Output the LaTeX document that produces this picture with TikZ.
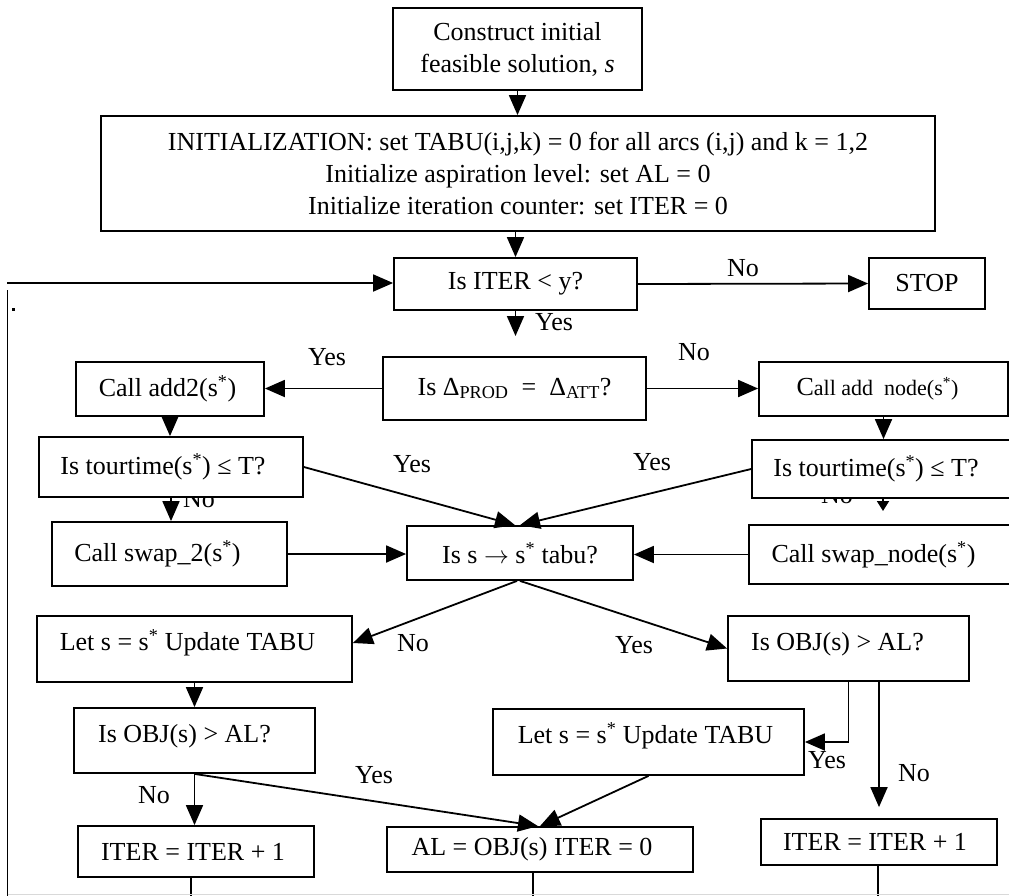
\documentclass[tikz,border=0pt]{standalone}
\usepackage{fontspec}
\setmainfont{Liberation Serif}
\usetikzlibrary{arrows.meta}

\tikzset{
  box/.style={draw, fill=white, line width=1.8pt, inner sep=0pt, anchor=center},
  lbl/.style={inner sep=0pt, anchor=center},
  wire/.style={line width=1.8pt},
  arr/.style={wire, -{Triangle[length=20pt,width=17pt]}},
  smallarr/.style={wire, -{Triangle[length=10pt,width=12pt]}},
  tshift/.style={execute at begin node={\hspace*{#1}}},
  lifted/.style={text height=18pt, text depth=15pt},
}

\begin{document}
\begin{tikzpicture}[x=1pt, y=-1pt, font=\fontsize{26}{32}\selectfont]
\useasboundingbox (0,0) rectangle (1009,895);

% branch labels that sit partly under the boxes
\node[lbl] (ttNoL) at (199,499) {No};
\node[lbl] (ttNoR) at (837,495) {No};

% ---- boxes ----
\node[box, minimum width=249pt, minimum height=82pt, align=center] (construct) at (517.5,49)
  {Construct initial\\feasible solution, \textit{s}};
\node[box, minimum width=834pt, minimum height=115pt, align=center] (init) at (518,173.5)
  {INITIALIZATION: set TABU(i,j,k) = 0 for all arcs (i,j) and k = 1,2\\
   Initialize aspiration level: set AL = 0\\
   Initialize iteration counter: set ITER = 0};
\node[box, minimum width=243pt, minimum height=52pt] (iter) at (515.5,284) {Is ITER < y?};
\node[box, minimum width=116pt, minimum height=51pt] (stop) at (927,283.5) {STOP};
\node[box, minimum width=263pt, minimum height=63pt] (delta) at (514.5,388.5)
  {Is Δ\textsubscript{PROD}\ \ =\ \ Δ\textsubscript{ATT}?};
\node[box, minimum width=188pt, minimum height=54pt, tshift=-5pt] (add2) at (170,389)
  {Call add2(s\textsuperscript{*})};
\node[box, minimum width=249pt, minimum height=54pt, tshift=-12pt] (addnode) at (883.5,389)
  {C{\fontsize{22}{26}\selectfont all add\ \ node(s\textsuperscript{*})}};
\node[box, minimum width=264pt, minimum height=60pt, tshift=-16pt] (tt1) at (171,467)
  {Is tourtime(s\textsuperscript{*}) ≤ T?};
\node[box, minimum width=258pt, minimum height=58pt, tshift=-10pt] (tt2) at (881,469)
  {Is tourtime(s\textsuperscript{*}) ≤ T?};
\node[box, minimum width=235pt, minimum height=64pt, tshift=-24pt] (swap2) at (169.5,554)
  {Call swap\_2(s\textsuperscript{*})};
\node[box, minimum width=226pt, minimum height=54pt] (tabu) at (520,553)
  {Is s $\rightarrow$ s\textsuperscript{*} tabu?};
\node[box, minimum width=261pt, minimum height=59pt, tshift=-12pt] (swapnode) at (879.5,554.5)
  {Call swap\_node(s\textsuperscript{*})};
\node[box, minimum width=315pt, minimum height=66pt, lifted, tshift=-14pt] (letL) at (194.5,649)
  {Let s = s\textsuperscript{*} Update TABU};
\node[box, minimum width=241pt, minimum height=65pt, lifted, tshift=-22pt] (objR) at (848.5,648.5)
  {Is OBJ(s) > AL?};
\node[box, minimum width=241pt, minimum height=65pt, lifted, tshift=-20pt] (objL) at (194.5,740.5)
  {Is OBJ(s) > AL?};
\node[box, minimum width=311pt, minimum height=66pt, lifted, tshift=-6pt] (letM) at (648.5,742)
  {Let s = s\textsuperscript{*}\ Update TABU};
\node[box, minimum width=236pt, minimum height=51pt, tshift=-6pt] (iterL) at (196,851.5)
  {ITER = ITER + 1};
\node[box, minimum width=306pt, minimum height=45pt, tshift=-16pt] (al) at (540,849.5)
  {AL = OBJ(s) ITER = 0};
\node[box, minimum width=236pt, minimum height=46pt, tshift=-8pt] (iterR) at (879,842)
  {ITER = ITER + 1};

% ---- free ends ----
\coordinate (yesTip) at (515.5,336);
\coordinate (ttTip) at (883,511);
\coordinate (loopIn) at (7,283);
\coordinate (loopTop) at (7.5,290);
\coordinate (loopBot) at (7.5,900);
\coordinate (bL) at (191,900);
\coordinate (bM) at (533,900);
\coordinate (bR) at (878,900);
\coordinate (edgeL) at (7.5,894.5);
\coordinate (edgeR) at (1009,894.5);

% ---- connectors ----
\draw[arr] (construct.south) -- (construct.south |- init.north);
\draw[arr] (iter.north |- init.south) -- (iter.north);
\draw[arr] (iter.east) -- (stop.west);
\draw[arr] (iter.south) -- (yesTip);
\draw[arr] (delta.west) -- (delta.west -| add2.east);
\draw[arr] (delta.east) -- (delta.east -| addnode.west);
\draw[arr] (add2.south) -- (add2.south |- tt1.north);
\draw[arr] (addnode.south) -- (addnode.south |- tt2.north);
\draw[arr] (tt1.east) -- ([xshift=-5pt]tabu.north);
\draw[arr] (tt2.west) -- (tabu.north);
\draw[arr] (tt1.south) -- (tt1.south |- swap2.north);
\draw[smallarr] (ttTip |- tt2.south) -- (ttTip);
\draw[arr] (swap2.east) -- (swap2.east -| tabu.west);
\draw[arr] (swapnode.west) -- (swapnode.west -| tabu.east);
\draw[arr] ([xshift=-3pt]tabu.south) -- ([yshift=6pt]letL.east);
\draw[arr] (tabu.south) -- (objR.west);
\draw[arr] (letL.south) -- (letL.south |- objL.north);
\draw[arr] (objL.south) -- (objL.south |- iterL.north);
\draw[arr] (objL.south) -- ([xshift=-2pt]al.north);
\draw[arr] (letM.south) -- (al.north);
\draw[arr] (objR.south) -- (objR.south |- letM.east) -- (letM.east);
\draw[arr] (iterR.north |- objR.south) -- ([yshift=11pt]iterR.north);

% return loop and lines running off the lower edge
\draw[arr] (loopIn) -- (loopIn -| iter.west);
\draw[wire] (loopTop) -- (loopBot);
\draw[wire] (bL |- iterL.south) -- (bL);
\draw[wire] (bM |- al.south) -- (bM);
\draw[wire] (bR |- iterR.south) -- (bR);
\draw[gray!30, line width=1pt] (edgeL) -- (edgeR);
\fill (12,308) rectangle (14.5,310.5);

% ---- branch labels ----
\node[lbl] (lNoStop) at (743,268) {No};
\node[lbl] (lYesIter) at (554,322) {Yes};
\node[lbl] (lYesAdd) at (327,357) {Yes};
\node[lbl] (lNoAdd) at (694,352) {No};
\node[lbl] (lYesT1) at (412,464) {Yes};
\node[lbl] (lYesT2) at (652,462) {Yes};
\node[lbl] (lNoLet) at (413,643) {No};
\node[lbl] (lYesObj) at (634,645) {Yes};
\node[lbl] (lYesAL) at (374,775) {Yes};
\node[lbl] (lNoIter) at (154,795) {No};
\node[lbl] (lYesLet) at (827,760) {Yes};
\node[lbl] (lNoIterR) at (914,773) {No};
\end{tikzpicture}
\end{document}
